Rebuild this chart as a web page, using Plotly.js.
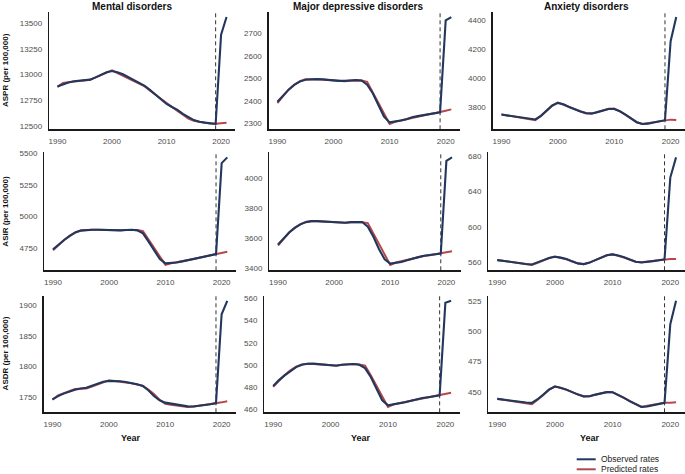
<!DOCTYPE html>
<html><head><meta charset="utf-8">
<script src="https://cdn.plot.ly/plotly-3.0.1.min.js"></script>
<style>html,body{margin:0;padding:0;background:#fff}#chart{width:685px;height:474px}</style>
</head><body><div id="chart"></div>
<script>
// ---------- DATA ----------
const years = [1990,1991,1992,1993,1994,1995,1996,1997,1998,1999,2000,2001,2002,2003,2004,2005,2006,2007,2008,2009,2010,2011,2012,2013,2014,2015,2016,2017,2018,2019,2020,2021];
const cutoffYear = 2019;
const diseases = ["Mental disorders", "Major depressive disorders", "Anxiety disorders"];
const measures = ["ASPR (per 100,000)", "ASIR (per 100,000)", "ASDR (per 100,000)"];
const seriesNames = ["Observed rates", "Predicted rates"];

// ASPR
const mentalAsprObs = [12883,12905,12922,12935,12942,12946,12950,12972,12998,13022,13034,13022,13002,12975,12948,12920,12890,12848,12802,12755,12714,12685,12656,12618,12584,12558,12542,12532,12526,12520,13386,13558];
const mentalAsprPred = [12880,12918,12925,12931,12938,12944,12950,12972,12995,13018,13040,13014,12989,12963,12937,12911,12885,12843,12802,12761,12720,12683,12646,12609,12572,12550,12538,12532,12527,12522,12527,12532];
const mddAsprObs = [2396,2424,2450,2471,2486,2494,2497,2497,2496,2493,2490,2489,2489,2491,2493,2491,2472,2434,2381,2330,2304,2307,2312,2318,2327,2332,2337,2341,2344,2349,2759,2774];
const mddAsprPred = [2390,2420,2450,2472,2488,2496,2497,2496,2495,2493,2491,2489,2488,2490,2492,2491,2485,2437,2389,2341,2297,2307,2313,2319,2325,2331,2336,2340,2345,2349,2356,2362];
const anxAsprObs = [3747,3742,3736,3731,3725,3718,3713,3738,3772,3810,3828,3818,3800,3783,3768,3758,3755,3764,3776,3786,3786,3770,3747,3718,3694,3682,3684,3692,3700,3708,4255,4423];
const anxAsprPred = [3748,3741,3735,3729,3722,3716,3708,3737,3773,3808,3830,3816,3800,3785,3770,3755,3752,3763,3775,3787,3789,3770,3745,3718,3694,3682,3689,3695,3702,3708,3712,3710];
// ASIR
const mentalAsirObs = [4742,4782,4816,4848,4876,4890,4895,4897,4897,4895,4892,4891,4892,4895,4897,4892,4868,4803,4729,4666,4632,4635,4639,4648,4658,4669,4679,4688,4697,4705,5421,5466];
const mentalAsirPred = [4736,4778,4818,4850,4878,4892,4896,4897,4896,4894,4892,4891,4892,4894,4896,4895,4885,4818,4750,4683,4620,4633,4640,4648,4657,4667,4677,4687,4696,4705,4713,4724];
const mddAsirObs = [3557,3600,3637,3668,3691,3706,3713,3713,3711,3706,3702,3700,3702,3706,3709,3707,3675,3608,3525,3458,3429,3434,3440,3451,3463,3472,3481,3487,3492,3496,4116,4139];
const mddAsirPred = [3550,3595,3638,3670,3693,3708,3713,3712,3710,3706,3702,3700,3702,3705,3708,3706,3700,3628,3555,3483,3420,3436,3445,3454,3463,3471,3479,3485,3491,3496,3503,3512];
const anxAsirObs = [562.6,561.6,560.7,560.0,559.2,558.3,557.7,559.8,562.6,565.0,566.4,565.4,563.8,561.2,558.9,558.1,559.8,562.6,565.6,568.0,569.0,567.8,565.7,563.0,560.8,560.0,560.5,561.5,562.5,563.4,655.4,678.1];
const anxAsirPred = [562.8,561.8,560.9,559.9,559.0,558.0,557.2,559.6,562.4,565.0,566.6,565.2,563.6,561.1,558.7,557.9,559.8,562.6,565.4,568.1,569.2,567.6,565.4,563.0,560.8,560.2,560.9,561.6,562.5,563.4,563.8,563.8];
// ASDR
const mentalAsdrObs = [1746.0,1751.5,1755.5,1759.0,1762.0,1764.0,1765.0,1768.5,1772.0,1775.0,1776.4,1776.2,1775.8,1774.5,1773.0,1770.8,1768.0,1761.0,1751.6,1744.5,1740.7,1739.0,1737.4,1735.8,1734.6,1734.4,1735.2,1736.6,1738.0,1740.0,1885.7,1907.7];
const mentalAsdrPred = [1745.5,1752.8,1756.3,1759.8,1763.2,1763.6,1764.0,1767.2,1770.6,1774.0,1777.2,1776.2,1775.2,1774.0,1772.5,1770.6,1768.6,1762.0,1755.0,1745.5,1739.0,1737.4,1736.2,1734.0,1733.6,1734.4,1735.4,1736.8,1738.2,1739.6,1741.2,1743.0];
const mddAsdrObs = [481.2,486.5,490.7,494.8,498.2,500.3,501.2,501.3,500.9,500.3,499.7,499.4,500.3,500.7,500.9,500.3,497.3,489.3,478.8,468.4,463.9,464.6,465.4,466.6,468.0,469.3,470.4,471.2,471.9,472.8,555.8,557.6];
const mddAsdrPred = [480.4,486.0,491.0,495.2,498.6,500.6,501.2,501.0,500.7,500.2,499.8,499.6,500.2,500.6,501.0,500.6,499.5,490.8,481.0,471.2,462.4,464.8,465.8,466.9,468.0,469.1,470.1,471.0,471.9,472.8,473.7,475.2];
const anxAsdrObs = [444.3,443.6,443.0,442.3,441.8,441.3,441.0,444.0,447.8,452.0,454.4,453.5,451.9,449.8,447.8,446.4,446.5,447.8,449.0,449.8,449.7,447.6,445.1,442.2,439.6,437.7,438.0,439.0,440.0,441.0,505.8,525.0];
const anxAsdrPred = [444.4,443.6,442.9,442.1,441.4,440.6,440.0,443.6,447.8,451.8,454.6,453.4,451.8,449.8,447.8,446.0,446.4,447.8,449.2,450.0,449.8,447.4,444.8,442.2,439.6,437.6,438.6,439.4,440.2,441.0,441.0,441.5];

const xTicks = [1990, 2000, 2010, 2020];
const yDticks = [[250,100,200],[250,200,40],[50,20,25]];

// ---------- LAYOUT GEOMETRY (pixels) ----------
const W = 685, H = 474;
const rowsPx = [[11.7,129.3],[152,270.3],[295.5,412.3]];
const colsPx = [
  [[49,235],[268.7,460],[492.7,685]],
  [[44.3,236],[269.3,460.7],[488.3,685]],
  [[43.7,236],[264.3,460],[488.3,685]]
];
const obsColor = '#22375c', predColor = '#b5474c';
const FONT = 'Liberation Sans, Arial, sans-serif';
const tickFont = {family:FONT, size:8, color:'#4d4d4d'};
const boldFont = (s) => ({family:FONT, size:s, color:'#111', weight:'bold'});

const grid = [
  [[mentalAsprObs,mentalAsprPred],[mddAsprObs,mddAsprPred],[anxAsprObs,anxAsprPred]],
  [[mentalAsirObs,mentalAsirPred],[mddAsirObs,mddAsirPred],[anxAsirObs,anxAsirPred]],
  [[mentalAsdrObs,mentalAsdrPred],[mddAsdrObs,mddAsdrPred],[anxAsdrObs,anxAsdrPred]]
];

const traces = [];
const layout = {
  width: W, height: H,
  margin: {l:0, r:0, t:0, b:0},
  paper_bgcolor: '#fff', plot_bgcolor: '#fff',
  showlegend: false,
  shapes: [], annotations: []
};

const xMin = years[0], xMax = years[years.length-1];
const xPad = (xMax - xMin) * 0.05;

for (let r = 0; r < 3; r++) {
  for (let c = 0; c < 3; c++) {
    const idx = r*3 + c + 1;
    const xa = 'xaxis' + (idx === 1 ? '' : idx), ya = 'yaxis' + (idx === 1 ? '' : idx);
    const xr = 'x' + (idx === 1 ? '' : idx), yr = 'y' + (idx === 1 ? '' : idx);
    const [obs, pred] = grid[r][c];
    const all = obs.concat(pred);
    const lo = Math.min(...all), hi = Math.max(...all), pad = (hi - lo) * 0.05;
    traces.push({x: years, y: pred, xaxis: xr, yaxis: yr, type:'scatter', mode:'lines',
      name: seriesNames[1], line:{color: predColor, width: 2}, hoverinfo:'skip'});
    traces.push({x: years, y: obs, xaxis: xr, yaxis: yr, type:'scatter', mode:'lines',
      name: seriesNames[0], line:{color: obsColor, width: 2.1}, hoverinfo:'skip'});
    const cp = colsPx[r][c], rp = rowsPx[r];
    layout[xa] = {domain:[cp[0]/W, cp[1]/W], anchor: yr, range:[xMin - xPad, xMax + xPad],
      tickvals: xTicks, ticks:'outside', ticklen:4, tickcolor:'rgba(0,0,0,0)',
      showline:true, linecolor:'#1a1a1a', linewidth:1.3, showgrid:false, zeroline:false,
      tickfont: tickFont, fixedrange:true};
    layout[ya] = {domain:[1 - rp[1]/H, 1 - rp[0]/H], anchor: xr, range:[lo - pad, hi + pad],
      dtick: yDticks[r][c], tick0: 0, tickformat:'d', ticks:'outside', ticklen:4, tickcolor:'rgba(0,0,0,0)',
      showline:true, linecolor:'#1a1a1a', linewidth:1.3, showgrid:false, zeroline:false,
      tickfont: tickFont, fixedrange:true};
    layout.shapes.push({type:'line', xref: xr, yref: yr + ' domain', x0: cutoffYear, x1: cutoffYear,
      y0: 0, y1: 1, line:{color:'#333', width:1, dash:'4px,3px'}, layer:'below'});
  }
}

// column titles
const colCenters = [132, 358, 586];
diseases.forEach((d, i) => layout.annotations.push({text: d, xref:'paper', yref:'paper',
  x: colCenters[i]/W, y: 1, xanchor:'center', yanchor:'top', showarrow:false, borderpad:0,
  font: boldFont(10)}));
// row titles
measures.forEach((m, i) => layout.annotations.push({text: m, xref:'paper', yref:'paper',
  x: 5.5/W, y: 1 - ((rowsPx[i][0] + rowsPx[i][1]) / 2)/H, xanchor:'center', yanchor:'middle',
  textangle:-90, showarrow:false, font: boldFont(8)}));
// x titles
const yearCenters = [131, 361, 590];
yearCenters.forEach(cx => layout.annotations.push({text:'Year', xref:'paper', yref:'paper',
  x: cx/W, y: 1 - 437.5/H, xanchor:'center', yanchor:'middle', showarrow:false, font: boldFont(9)}));

// legend (key lines + labels)
const legendColors = [obsColor, predColor];
const legendRowsPx = [459.3, 469.3];
seriesNames.forEach((n, i) => {
  layout.shapes.push({type:'line', xref:'paper', yref:'paper', x0: 576.7/W, x1: 595.7/W,
    y0: 1 - legendRowsPx[i]/H, y1: 1 - legendRowsPx[i]/H, line:{color: legendColors[i], width: 2}});
  layout.annotations.push({text: n, xref:'paper', yref:'paper', x: 600/W, y: 1 - legendRowsPx[i]/H,
    xanchor:'left', yanchor:'middle', showarrow:false, borderpad:0,
    font:{family:FONT, size:8.5, color:'#222'}});
});

Plotly.newPlot('chart', traces, layout, {staticPlot:true, displayModeBar:false});
</script></body></html>
